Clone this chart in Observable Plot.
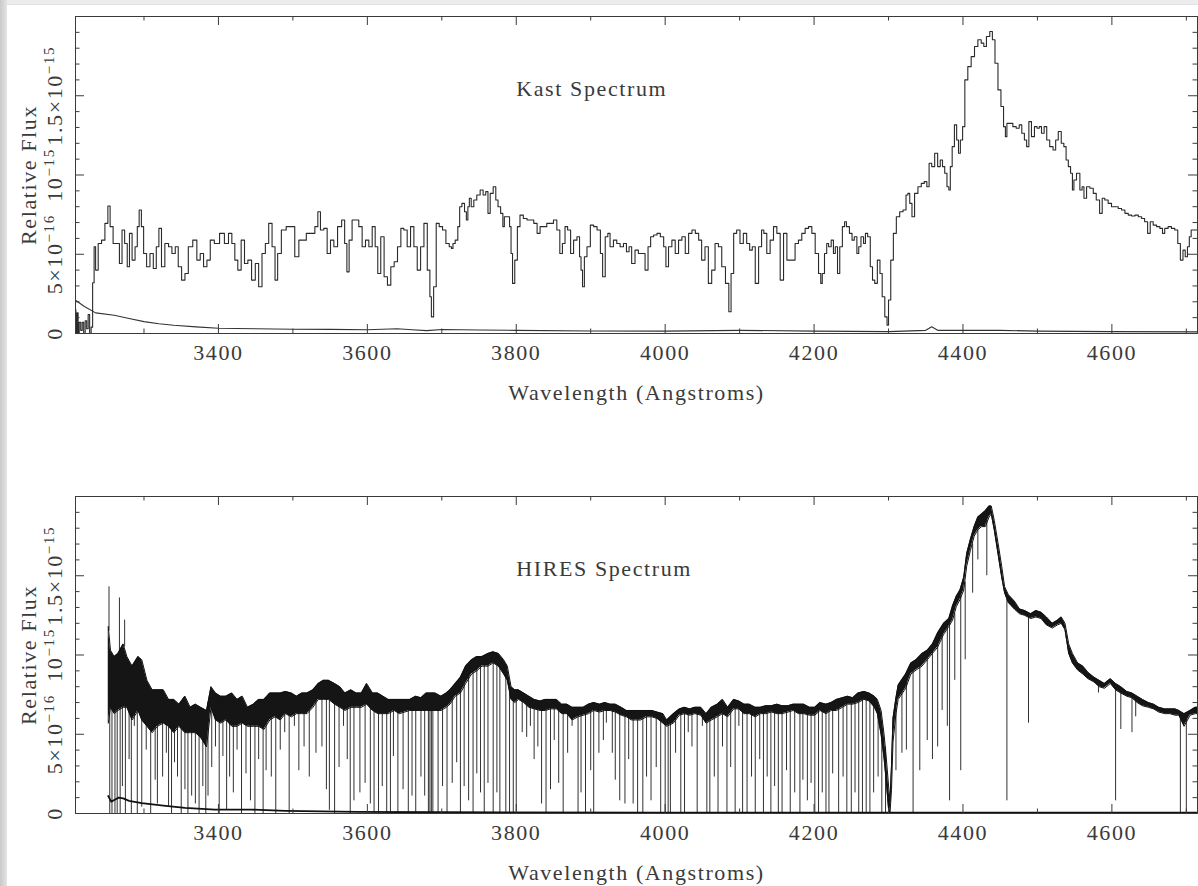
<!DOCTYPE html>
<html><head><meta charset="utf-8">
<script src="https://cdn.jsdelivr.net/npm/d3@7"></script>
<script src="https://cdn.jsdelivr.net/npm/@observablehq/plot@0.6"></script>
<style>
html,body{margin:0;padding:0;background:#fff;}
body{width:1198px;height:886px;overflow:hidden;position:relative;font-family:"Liberation Serif","DejaVu Serif",serif;}
#leftbar{position:absolute;left:0;top:0;width:7px;height:886px;background:linear-gradient(to right,#c9c9c9,#e4e4e4);}
#topbar{position:absolute;left:0;top:0;width:1198px;height:4px;background:#ececec;border-bottom:1px solid #dde3e6;}
.panel{position:absolute;left:0;}
</style></head><body>
<div id="topbar"></div><div id="leftbar"></div>
<div id="p1" class="panel" style="top:0px"></div>
<div id="p2" class="panel" style="top:480px"></div>
<script>
// ---- axes / labels ----
const xDomain = [3208, 4715];                      // wavelength (Angstroms)
const yDomain = [0, 20];                           // flux in units of 1e-16
const xMajorTicks = [3400, 3600, 3800, 4000, 4200, 4400, 4600];
const xMinorTicks = [3300, 3500, 3700, 3900, 4100, 4300, 4500, 4700];
const yMajorTicks = [0, 5, 10, 15];
const yTickLabels = ["0", "5×10^−16", "10^−15", "1.5×10^−15"];
const yMinorTicks = [1, 2, 3, 4, 6, 7, 8, 9, 11, 12, 13, 14, 16, 17, 18, 19];
const panelTitles = ["Kast Spectrum", "HIRES Spectrum"];
const xLabel = "Wavelength (Angstroms)";
const yLabel = "Relative Flux";

// ---- Kast spectrum: [wavelength, flux (1e-16)] ----
const kastSpectrum = [
[3208,1.5],[3209,0],[3211,1.3],[3212,0],[3214,0.7],[3216,0.2],[3218,0.7],[3220,0],[3222,0.8],[3224,0.3],[3226,1.2],[3228,0],[3230,0.4],[3232,3.2],
[3234,5.47],[3236,4.0],[3241,5.68],[3245,5.89],[3250,6.95],[3253,8.04],[3256,6.74],[3261,5.68],[3265,5.68],[3269,4.42],[3272,6.53],[3276,5.68],[3279,4.21],[3282,6.32],[3286,4.63],[3290,5.47],[3292,6.74],[3295,7.79],[3298,6.74],
[3301,5.05],[3306,4.21],[3310,5.05],[3315,4.1],[3318,5.47],[3322,6.63],[3325,4.21],[3331,5.68],[3335,5.47],[3340,5.05],[3344,5.47],[3348,4.21],[3353,3.37],[3357,3.79],[3362,5.47],[3369,5.89],[3373,4.63],[3378,5.05],[3382,4.21],[3387,4.63],[3391,5.89],[3398,5.68],
[3405,6.32],[3411,5.68],[3416,6.32],[3420,5.68],[3424,4.63],[3428,4.0],[3433,5.89],[3437,4.42],[3442,4.63],[3447,3.37],[3452,4.42],[3456,2.95],[3461,5.05],[3465,5.68],[3470,6.95],[3474,5.47],[3478,3.37],[3481,5.05],[3488,6.53],[3494,6.74],[3499,6.74],
[3506,4.84],[3510,5.89],[3515,5.89],[3521,6.32],[3527,6.32],[3532,6.74],[3535,7.68],[3539,6.53],[3544,6.63],[3548,5.05],[3553,5.89],[3557,5.47],[3563,6.74],[3568,7.16],[3571,5.68],[3574,3.89],[3577,5.89],[3582,7.16],[3586,7.16],[3591,6.74],[3595,5.47],
[3600,5.89],[3604,5.47],[3609,6.74],[3612,5.47],[3616,3.79],[3620,6.1],[3625,3.58],[3629,3.05],[3634,4.21],[3638,4.53],[3643,5.47],[3647,6.63],[3651,6.53],[3656,5.47],[3660,6.74],[3665,5.47],[3669,4.0],[3674,5.47],[3678,6.95],[3683,4.0],[3685,2.32],[3687,1.05],[3691,2.95],[3694,6.95],[3699,6.74],
[3703,6.53],[3708,5.68],[3712,5.47],[3714,5.37],[3716,5.68],[3720,5.89],[3723,6.74],[3725,8.0],[3729,8.21],[3732,7.68],[3734,7.16],[3736,8.0],[3738,8.53],[3741,8.0],[3745,8.42],[3749,8.74],[3754,9.05],[3757,8.74],[3761,8.95],[3763,7.58],[3767,8.84],[3771,9.26],[3774,8.42],[3777,8.0],[3781,7.58],[3783,6.74],[3785,7.37],[3790,7.37],[3792,6.74],[3794,5.05],[3796,3.16],
[3800,4.63],[3803,6.74],[3807,7.47],[3812,7.26],[3817,7.16],[3821,7.16],[3826,6.95],[3830,6.32],[3834,6.74],[3839,6.74],[3843,6.95],[3848,6.95],[3852,7.16],[3857,6.53],[3860,5.05],[3864,5.68],[3867,6.74],[3871,6.53],[3875,5.05],[3879,5.89],[3884,6.1],[3886,4.84],[3888,4.0],[3890,2.95],[3893,4.84],[3897,5.47],
[3902,6.84],[3906,6.74],[3911,6.53],[3915,5.05],[3917,3.58],[3922,6.1],[3924,6.32],[3928,5.47],[3933,5.89],[3937,5.68],[3942,5.47],[3946,5.68],[3950,5.16],[3953,5.47],[3957,4.42],[3962,5.26],[3966,5.05],[3971,5.05],[3975,4.0],[3979,5.47],[3982,6.1],[3987,6.21],[3991,6.32],[3996,6.1],
[4000,5.47],[4002,4.21],[4007,5.47],[4011,5.89],[4016,5.05],[4020,5.89],[4025,6.1],[4029,5.05],[4034,6.32],[4038,6.53],[4043,6.32],[4047,5.89],[4051,4.63],[4056,5.47],[4060,3.16],[4065,4.0],[4069,5.68],[4074,5.47],[4078,4.21],[4084,3.16],[4087,1.37],[4090,3.79],[4094,6.32],[4098,6.53],
[4103,5.68],[4107,6.32],[4112,5.68],[4115,5.26],[4119,5.47],[4123,3.16],[4128,5.47],[4131,6.53],[4134,6.32],[4139,5.05],[4143,5.89],[4148,6.74],[4152,6.32],[4157,3.37],[4161,6.32],[4166,4.63],[4172,4.63],[4177,5.68],[4181,5.89],[4186,6.32],[4190,6.63],[4195,6.74],[4199,6.32],
[4204,5.05],[4208,3.79],[4210,3.16],[4212,3.79],[4216,5.05],[4218,5.68],[4221,5.47],[4225,5.89],[4227,5.05],[4230,5.47],[4233,3.79],[4236,5.47],[4240,6.74],[4242,7.05],[4245,6.74],[4250,6.32],[4252,5.89],[4256,6.1],[4259,5.05],[4261,5.47],[4265,6.1],[4268,5.68],[4270,6.32],[4274,6.1],[4277,4.21],[4280,3.37],[4283,3.16],[4287,4.63],[4290,3.79],[4293,2.32],[4297,1.05],[4299,0.53],
[4301,2.11],[4305,4.63],[4308,6.32],[4313,7.37],[4317,7.68],[4322,7.79],[4325,8.74],[4327,8.84],[4330,8.21],[4333,7.37],[4337,8.84],[4342,9.26],[4346,9.47],[4350,9.58],[4353,9.26],[4356,10.74],[4360,10.53],[4364,11.37],[4368,10.53],[4371,10.95],[4374,10.53],[4377,10.11],[4380,9.26],[4382,9.05],[4384,10.53],[4387,11.79],[4390,13.16],[4393,12.21],[4395,11.37],[4398,12.21],
[4401,13.05],[4404,16.0],[4409,16.84],[4413,17.47],[4418,18.11],[4422,18.53],[4427,18.32],[4429,18.11],[4434,18.74],[4438,19.05],[4441,18.53],[4445,17.05],[4449,15.37],[4453,14.32],[4456,13.05],[4458,12.42],[4460,13.26],[4465,13.26],[4469,13.05],[4474,12.95],[4477,13.16],[4481,12.63],[4484,12.21],[4487,11.79],[4490,13.37],[4494,12.42],[4498,13.05],
[4501,12.95],[4504,13.05],[4507,12.63],[4511,13.05],[4514,12.21],[4519,11.79],[4523,11.58],[4526,12.21],[4530,12.74],[4534,12.0],[4537,11.79],[4540,10.95],[4543,10.53],[4546,10.11],[4548,9.05],[4550,9.68],[4555,10.11],[4559,9.05],[4561,9.26],[4564,8.53],[4568,9.26],[4573,9.16],[4577,8.84],[4581,8.42],[4586,7.58],[4588,8.53],[4593,8.42],[4597,8.21],
[4602,8.0],[4606,8.0],[4611,7.89],[4615,7.79],[4620,7.58],[4624,7.47],[4629,7.41],[4633,7.47],[4638,7.37],[4642,7.26],[4646,7.05],[4650,6.32],[4653,7.05],[4658,6.84],[4662,6.74],[4667,6.63],[4669,6.32],[4673,6.63],[4678,6.74],[4682,6.63],[4687,6.53],[4690,5.68],[4694,4.63],[4697,5.26],[4700,4.84],[4703,5.47],[4705,6.1],[4708,6.53],[4716,6.53]
];
const kastError = [
[3208,2.1],[3220,1.7],[3235,1.3],[3260,1.15],[3280,0.95],[3300,0.75],[3320,0.62],[3340,0.52],[3370,0.42],[3400,0.33],[3450,0.3],[3500,0.27],[3550,0.26],[3600,0.24],[3640,0.3],[3660,0.24],[3680,0.18],[3700,0.25],
[3750,0.22],[3800,0.2],[3900,0.16],[4000,0.15],[4100,0.2],[4200,0.15],[4300,0.12],[4350,0.2],[4358,0.42],[4366,0.2],[4450,0.2],[4500,0.15],[4600,0.12],[4715,0.1]
];

// ---- HIRES spectrum ----
// noisy continuum band: [wavelength, lower edge, upper edge] (1e-16)
const hiresBand = [
[3252,5.7,11.8],[3255,6.7,10.3],[3260,6.3,9.9],[3265,6.5,10.1],[3272,6.7,10.7],[3277,6.7,9.9],[3284,5.9,9.3],[3292,6.5,9.9],[3297,5.9,9.7],
[3304,5.5,8.4],[3311,5.1,7.8],[3318,5.5,7.8],[3326,5.7,7.8],[3333,5.5,7.2],[3340,5.1,7.2],[3347,5.5,6.9],[3355,5.1,7.4],[3362,5.1,6.7],[3369,5.1,6.9],[3376,4.8,6.7],[3384,4.2,6.5],[3390,6.7,8.0],[3396,5.9,7.6],
[3403,5.7,7.4],[3410,5.9,7.4],[3418,5.5,7.6],[3425,5.5,7.2],[3432,5.7,7.4],[3439,5.5,6.7],[3447,5.5,6.9],[3454,5.5,7.2],[3461,5.3,7.2],[3469,5.9,7.6],[3476,6.1,7.6],[3483,5.9,7.6],[3490,6.3,7.7],[3498,6.1,7.6],
[3505,6.3,7.4],[3512,6.3,7.6],[3519,6.3,7.6],[3527,6.7,7.8],[3534,7.2,8.2],[3541,7.2,8.4],[3548,7.2,8.4],[3556,6.9,8.2],[3563,6.7,8.0],[3570,6.5,7.6],[3578,6.7,7.8],[3585,6.7,7.6],[3592,6.7,7.6],[3599,6.9,8.2],
[3607,6.5,7.6],[3614,6.3,7.6],[3621,6.3,7.4],[3628,6.3,7.2],[3636,6.5,7.2],[3643,6.3,7.2],[3650,6.4,7.2],[3657,6.5,7.2],[3665,6.5,7.4],[3672,6.5,7.3],[3679,6.5,7.6],[3691,6.5,7.6],[3699,6.5,7.4],
[3706,6.7,7.6],[3711,6.9,7.8],[3718,7.4,8.2],[3725,7.6,8.6],[3732,8.2,9.3],[3740,8.8,9.7],[3747,9.0,9.9],[3754,9.3,9.9],[3762,9.3,10.1],[3769,9.5,10.2],[3776,9.3,10.1],[3783,8.8,9.7],[3788,8.4,9.3],[3793,7.2,8.0],[3798,7.0,7.8],
[3803,7.2,7.8],[3810,7.0,7.6],[3817,6.7,7.4],[3824,6.6,7.2],[3832,6.5,7.1],[3839,6.5,7.2],[3846,6.6,7.2],[3854,6.6,7.2],[3861,6.3,6.9],[3868,6.3,6.9],[3875,5.9,6.7],[3883,6.1,6.7],[3890,6.2,6.7],[3897,6.3,6.9],
[3904,6.5,7.0],[3912,6.4,6.9],[3919,6.5,7.0],[3926,6.5,6.9],[3933,6.4,6.9],[3941,6.2,6.7],[3948,6.1,6.5],[3955,5.9,6.5],[3960,5.9,6.5],[3967,5.9,6.5],[3975,6.1,6.5],[3982,6.1,6.5],[3989,6.0,6.4],[3997,5.7,6.3],
[4002,5.5,5.9],[4011,5.7,6.3],[4019,6.2,6.6],[4026,6.3,6.7],[4033,6.2,6.6],[4040,6.3,6.7],[4048,6.2,6.7],[4055,5.7,6.3],[4062,5.9,6.7],[4070,6.1,6.9],[4077,6.3,7.2],[4084,6.1,6.7],[4092,6.6,7.2],[4099,6.6,7.1],
[4106,6.3,6.9],[4113,6.3,6.9],[4121,6.1,6.7],[4128,6.3,6.7],[4135,6.3,6.8],[4143,6.4,6.8],[4150,6.3,6.9],[4157,6.3,6.8],[4165,6.4,6.8],[4172,6.5,6.9],[4179,6.3,6.9],[4186,6.3,6.9],[4194,6.2,6.7],
[4201,6.2,6.7],[4208,6.5,7.0],[4216,6.3,6.9],[4223,6.5,7.0],[4230,6.5,7.2],[4238,6.7,7.3],[4245,6.9,7.4],[4252,6.9,7.3],[4259,7.0,7.6],[4267,7.2,7.7],[4274,7.1,7.6],[4281,6.7,7.4],[4285,6.3,7.2],[4290,5.0,6.5],[4294,3.5,5.0],[4297,2.0,3.5],
[4300,0.3,1.8],[4302,0.0,0.8],[4304,1.5,3.0],[4306,4.5,6.0],[4310,6.3,7.3],[4313,7.2,8.1],[4323,7.9,8.8],[4330,8.8,9.5],[4337,9.05,9.7],[4345,9.3,10.1],[4352,9.7,10.3],[4359,10.1,10.7],[4366,10.5,11.4],[4374,11.3,12.0],[4381,11.8,12.3],[4386,12.2,13.1],[4391,13.05,13.7],[4396,13.5,14.1],
[4401,14.1,14.9],[4405,15.6,16.4],[4410,16.6,17.3],[4415,17.5,18.1],[4420,17.9,18.7],[4425,18.1,18.9],[4430,18.1,19.1],[4435,18.7,19.4],[4438,18.9,19.4],[4442,17.9,18.5],[4447,16.4,17.1],[4452,14.9,15.6],[4456,13.9,14.3],[4461,13.3,13.8],[4469,12.9,13.4],[4476,12.6,12.9],[4483,12.5,12.8],[4491,12.3,12.6],[4498,12.4,12.8],
[4505,12.3,12.7],[4512,11.9,12.4],[4520,11.7,12.0],[4527,11.9,12.2],[4532,12.0,12.4],[4537,11.6,12.0],[4542,10.1,10.7],[4547,9.5,10.1],[4554,9.05,9.5],[4561,8.8,9.3],[4568,8.5,8.9],[4576,8.3,8.6],[4583,8.0,8.4],[4590,7.9,8.2],[4598,8.2,8.5],
[4605,7.8,8.2],[4612,7.6,8.0],[4620,7.4,7.7],[4627,7.3,7.6],[4634,7.0,7.4],[4641,6.8,7.2],[4649,6.7,7.0],[4656,6.6,6.9],[4663,6.4,6.7],[4671,6.3,6.6],[4678,6.3,6.6],[4685,6.2,6.6],[4690,6.2,6.5],[4697,5.5,6.3],[4705,6.2,6.5],[4712,6.3,6.7],[4716,6.3,6.7]
];
// narrow absorption lines and emission spikes: [wavelength, low end, high end] (1e-16)
const hiresLines = [
[3253,11.5,14.3],[3254,0,7.0],[3257,0,7.0],[3261,0,7.0],[3264,0,7.0],[3267,10.0,13.6],[3268,0,7.2],[3271,1.7,7.2],[3274,10.5,12.2],[3275,0,7.2],[3280,3.4,7.0],[3283,0,6.8],[3287,5.5,6.8],[3291,0,7.0],[3297,0.4,6.6],
[3303,4.0,6.2],[3309,0,6.0],[3315,2.1,6.2],[3318,0.6,6.2],[3325,2.3,6.3],[3330,3.8,6.2],[3333,0.4,6.0],[3337,0,6.0],[3341,3.2,5.8],[3345,2.3,6.0],[3350,0,6.0],[3355,1.5,5.8],[3359,0,5.8],[3364,1.1,5.8],[3369,0.6,5.8],[3374,0,5.6],[3379,1.7,5.4],[3383,0,5.0],[3386,1.1,7.0],[3391,2.9,7.2],[3396,4.2,6.6],
[3401,0,6.4],[3406,3.6,6.5],[3411,0.2,6.5],[3415,2.3,6.4],[3420,1.3,6.2],[3425,4.0,6.2],[3431,0,6.4],[3437,2.5,6.1],[3443,0.8,6.1],[3449,0,6.2],[3454,3.4,6.2],[3460,0,6.0],[3464,2.7,6.2],[3471,2.3,6.6],[3477,0,6.7],[3483,4.0,6.6],[3489,5.1,6.9],[3495,0,6.8],
[3502,5.5,6.9],[3508,2.7,6.9],[3515,4.2,6.9],[3522,2.3,7.0],[3531,3.8,7.3],[3539,4.2,7.7],[3545,1.5,7.7],[3549,0.2,7.7],[3556,0,7.5],[3562,2.9,7.3],[3568,5.5,7.1],[3573,3.4,7.1],[3577,0,7.2],[3582,0.8,7.2],[3590,1.3,7.2],[3597,1.9,7.4],
[3604,0.6,7.1],[3609,0,7.0],[3615,0,6.9],[3620,1.7,6.9],[3626,0,6.8],[3631,0,6.8],[3635,3.6,6.9],[3641,0,6.8],[3648,1.5,6.9],[3655,0,7.0],[3660,1.1,7.0],[3665,0,7.0],[3672,2.3,7.0],[3677,1.1,7.0],[3682,0,7.0],[3684,0,7.0],[3686,0,7.0],[3688,0,7.0],[3695,0,7.0],
[3701,1.7,7.0],[3707,0,7.2],[3714,1.9,7.6],[3720,3.2,7.9],[3725,0,8.1],[3730,1.7,8.7],[3736,0.8,9.2],[3742,0,9.3],[3747,2.5,9.5],[3752,1.3,9.6],[3757,0,9.6],[3762,1.9,9.7],[3769,0,9.8],[3774,1.3,9.7],[3778,0,9.6],[3786,0,8.9],[3791,0,7.8],[3796,0,7.4],
[3800,0,7.5],[3808,5.1,7.3],[3814,4.8,7.1],[3819,5.5,7.0],[3824,3.4,6.9],[3829,4.2,6.8],[3834,0.6,6.8],[3840,0,6.8],[3846,1.5,6.9],[3851,4.6,6.9],[3857,1.9,6.7],[3863,0,6.6],[3869,3.8,6.5],[3875,5.5,6.3],[3883,0,6.4],[3887,1.3,6.4],[3893,0,6.5],
[3900,2.7,6.6],[3904,0,6.7],[3911,3.8,6.6],[3917,4.6,6.7],[3921,5.7,6.7],[3929,3.8,6.7],[3933,2.1,6.6],[3939,0.8,6.4],[3946,0.6,6.3],[3951,3.4,6.2],[3957,0.6,6.1],[3963,0,6.2],[3970,0,6.2],[3975,2.3,6.3],[3981,0.8,6.3],[3988,2.9,6.2],[3994,0,6.0],
[4000,0,5.8],[4004,0,5.7],[4007,0,5.8],[4014,3.8,6.2],[4021,0,6.4],[4026,0,6.5],[4031,5.1,6.4],[4036,4.2,6.4],[4043,0,6.5],[4050,5.5,6.2],[4056,0,6.0],[4060,0,6.1],[4066,2.3,6.3],[4071,0,6.4],[4077,4.2,6.6],[4083,0,6.4],[4088,2.9,6.6],[4094,0,6.8],[4099,5.5,6.8],
[4104,0,6.6],[4110,0,6.5],[4116,2.3,6.5],[4121,0,6.3],[4127,3.4,6.5],[4132,0,6.5],[4137,2.3,6.5],[4142,0,6.6],[4147,1.7,6.5],[4152,0,6.5],[4157,0,6.5],[4163,2.7,6.6],[4168,0,6.6],[4174,1.3,6.7],[4181,0,6.5],[4185,2.1,6.5],[4191,0.8,6.4],[4196,1.9,6.4],
[4201,0,6.4],[4206,0,6.6],[4211,1.3,6.6],[4216,0,6.5],[4220,0,6.6],[4225,2.5,6.7],[4233,0,6.8],[4239,2.3,6.9],[4244,0,7.1],[4250,0,7.1],[4255,1.3,7.1],[4260,0,7.2],[4265,0,7.4],[4270,0,7.3],[4275,0,7.3],[4280,1.3,7.0],[4286,2.3,6.6],[4291,0,5.6],[4296,0,4.2],
[4310,2.7,6.7],[4318,3.8,7.9],[4324,4.0,8.2],[4333,0,9.2],[4342,2.7,9.5],[4352,4.6,9.9],[4359,3.4,10.3],[4366,4.2,10.8],[4372,6.5,11.5],[4379,5.5,12.0],[4382,0.8,12.0],[4389,8.4,12.6],[4397,2.7,13.7],[4403,9.7,14.6],[4413,13.9,17.0],[4420,16.0,18.2],[4432,15.0,18.5],
[4459,0.8,13.5],[4488,5.7,12.5],[4582,7.6,8.2],[4605,0.8,8.0],[4612,5.3,7.8],[4627,5.1,7.4],[4632,6.1,7.2],[4692,0,6.3],[4700,0,6.3]
];
const hiresError = [
[3252,1.1],[3256,0.75],[3262,0.9],[3266,1.0],[3272,0.95],[3280,0.8],[3297,0.65],[3326,0.5],[3355,0.35],[3395,0.25],[3443,0.25],[3490,0.17],[3587,0.1],[3700,0.08],[4000,0.05],[4400,0.05],[4715,0.05]
];

const INK = "#3a3a3a";
const FONT = '"Liberation Serif","DejaVu Serif",serif';
const W = 1198, ML = 75, MR = 1, MT = 16, PLOT_H = 317;
const PLOT_W = W - ML - MR;

function panel(title, height, dataMarks) {
  const MB = height - MT - PLOT_H;
  const major = 9, minor = 4.5;
  const txt = {fill: INK, fontSize: 22, fontFamily: FONT, lineAnchor: "middle"};
  const svg = Plot.plot({
    width: W, height, marginTop: MT, marginRight: MR, marginBottom: MB, marginLeft: ML,
    x: {domain: xDomain, axis: null},
    y: {domain: yDomain, axis: null},
    style: {background: "transparent", fontFamily: FONT, fontSize: "22px", color: INK, letterSpacing: "1.6px", overflow: "visible"},
    marks: [
      ...dataMarks,
      Plot.frame({stroke: INK, strokeWidth: 1}),
      Plot.ruleX(xMajorTicks, {x: d => d, insetTop: PLOT_H - major, stroke: INK}),
      Plot.ruleX(xMinorTicks, {x: d => d, insetTop: PLOT_H - minor, stroke: INK}),
      Plot.ruleX(xMajorTicks, {x: d => d, insetBottom: PLOT_H - major, stroke: INK}),
      Plot.ruleX(xMinorTicks, {x: d => d, insetBottom: PLOT_H - minor, stroke: INK}),
      Plot.ruleY(yMajorTicks, {y: d => d, insetRight: PLOT_W - major, stroke: INK}),
      Plot.ruleY(yMinorTicks, {y: d => d, insetRight: PLOT_W - minor, stroke: INK}),
      Plot.ruleY(yMajorTicks, {y: d => d, insetLeft: PLOT_W - major, stroke: INK}),
      Plot.ruleY(yMinorTicks, {y: d => d, insetLeft: PLOT_W - minor, stroke: INK}),
      Plot.text(xMajorTicks, {x: d => d, text: d => String(d), frameAnchor: "bottom", dy: 19, textAnchor: "middle", ...txt}),
      Plot.text(yMajorTicks, {y: d => d, text: (d, i) => yTickLabels[i], frameAnchor: "left", dx: -21, rotate: -90, textAnchor: "middle", ...txt}),
      Plot.text([yLabel], {text: d => d, frameAnchor: "left", dx: -47, rotate: -90, textAnchor: "middle", ...txt}),
      Plot.text([xLabel], {text: d => d, frameAnchor: "bottom", dy: 59, textAnchor: "middle", ...txt}),
      Plot.text([title], {x: 3800, y: 15.4, text: d => d, textAnchor: "start", ...txt})
    ]
  });
  // superscripts for the exponent labels
  d3.select(svg).selectAll("text").each(function () {
    const s = this.textContent;
    if (s.includes("^")) {
      const [base, sup] = s.split("^");
      const t = d3.select(this);
      t.text(null);
      t.append("tspan").text(base);
      t.append("tspan").attr("dy", "-0.5em").attr("font-size", "15px").text(sup);
    }
  });
  return svg;
}

const xy = {x: d => d[0], y: d => d[1]};

document.getElementById("p1").appendChild(panel(panelTitles[0], 420, [
  Plot.line(kastError, {...xy, stroke: "#333", strokeWidth: 1.1}),
  Plot.line(kastSpectrum, {...xy, curve: "step", stroke: "#2a2a2a", strokeWidth: 1.1})
]));

document.getElementById("p2").appendChild(panel(panelTitles[1], 406, [
  Plot.ruleX(hiresLines, {x: d => d[0], y1: d => d[1], y2: d => d[2], stroke: "#1a1a1a", strokeWidth: 0.9}),
  Plot.areaY(hiresBand, {x: d => d[0], y1: d => d[1], y2: d => d[2], fill: "#151515"}),
  Plot.line(hiresBand, {x: d => d[0], y: d => d[1], stroke: "#111", strokeWidth: 1}),
  Plot.line(hiresBand, {x: d => d[0], y: d => d[2], stroke: "#111", strokeWidth: 1}),
  Plot.line(hiresError, {...xy, stroke: "#111", strokeWidth: 1.8})
]));
</script>
</body></html>
